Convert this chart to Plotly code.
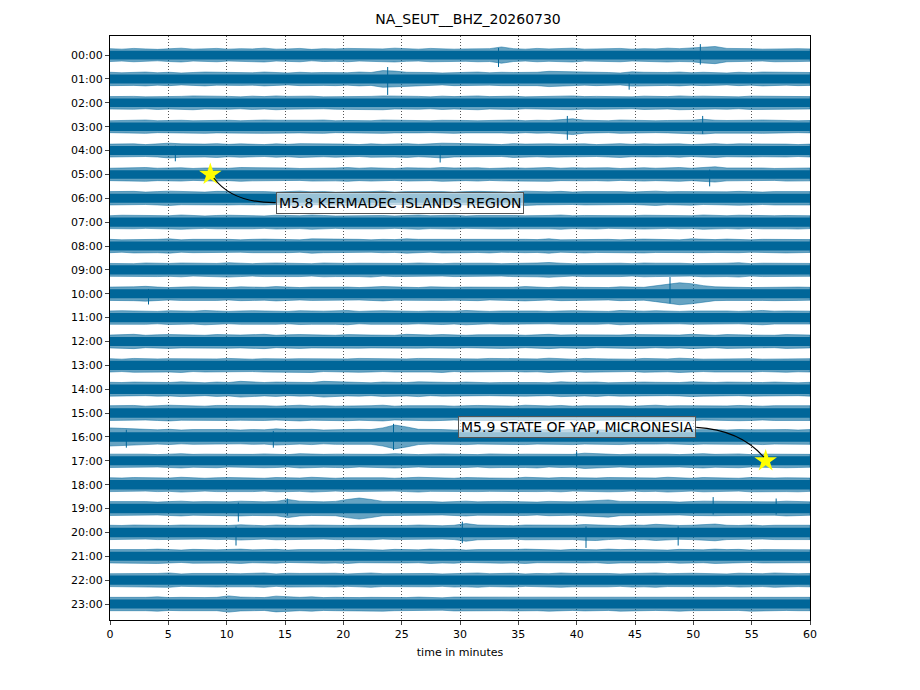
import numpy as np
import plotly.graph_objects as go

title = "NA_SEUT__BHZ_20260730"
hour_labels = ["%02d:00" % h for h in range(24)]
x_ticks = list(range(0, 61, 5))

# trace envelope per hour, one value per minute, in % of the row spacing
env_00 = [27,25,28,26,24,27,29,25,26,28, 25,27,26,29,25,26,28,24,27,26, 28,25,27,26,29,26,25,28,27,25, 26,28,27,34,27,25,28,26,27,29, 25,27,26,28,25,27,26,29,27,28, 33,36,28,26,27,25,28,26,27,26]
env_01 = [28,26,27,29,26,28,25,27,29,26, 28,27,26,29,27,25,28,26,27,28, 26,29,27,35,33,28,26,27,25,28, 27,29,26,28,27,26,28,32,30,27, 26,28,27,25,30,28,26,27,29,26, 28,27,25,28,26,29,27,26,28,27]
env_02 = [26,28,27,25,28,26,27,29,26,28, 27,25,28,26,29,27,26,28,25,27, 28,26,27,29,26,28,27,25,28,26, 27,29,26,27,28,25,27,26,28,29, 26,27,28,26,25,28,27,26,29,27, 28,26,27,25,28,27,26,28,27,26]
env_03 = [25,27,26,28,25,26,27,25,28,26, 27,25,26,28,27,25,26,27,28,25, 26,27,25,28,26,27,26,25,27,28, 26,25,27,26,28,25,27,26,29,33, 27,26,25,28,26,27,25,26,28,27, 31,27,26,25,27,28,26,27,25,26]
env_04 = [27,26,28,25,27,31,28,26,27,29, 26,28,27,25,28,26,29,27,26,28, 27,25,28,26,27,29,26,28,31,27, 26,28,27,25,29,27,26,28,27,26, 28,25,27,29,26,28,27,26,28,25, 27,29,26,28,27,26,28,27,25,27]
env_05 = [26,28,27,29,26,27,28,25,27,28, 26,29,27,26,28,27,25,28,26,27, 29,26,28,27,25,28,27,26,29,27, 26,28,25,27,28,26,27,29,26,28, 27,26,28,25,27,28,26,27,29,26, 28,32,27,26,28,27,25,28,26,27]
env_06 = [28,27,29,26,28,30,27,28,26,29, 28,27,29,28,26,28,30,27,28,26, 29,27,28,30,26,28,27,29,28,26, 28,29,27,28,26,30,28,27,29,26, 28,27,29,28,26,28,30,27,28,29, 26,28,27,29,28,26,28,27,29,28]
env_07 = [27,29,28,26,28,27,30,28,26,28, 29,27,28,26,29,28,27,30,28,26, 28,29,27,28,26,28,30,27,28,29, 26,28,27,29,28,27,26,28,30,27, 28,29,26,28,27,29,28,26,28,27, 30,28,27,29,26,28,27,28,29,27]
env_08 = [28,26,29,27,28,30,26,28,27,29, 28,26,28,29,27,28,26,30,28,27, 29,28,26,28,27,30,28,26,29,27, 28,27,29,26,28,28,27,30,26,28, 29,27,28,26,28,29,27,28,26,30, 28,27,29,28,26,28,27,29,28,27]
env_09 = [27,28,26,29,28,27,29,26,28,27, 30,28,26,28,29,27,28,26,29,28, 27,28,30,26,28,27,29,28,26,28, 27,29,28,26,28,27,29,31,28,26, 28,29,27,28,26,29,28,27,28,26, 29,27,28,30,26,28,27,29,28,27]
env_10 = [28,27,29,31,28,26,28,29,27,28, 26,29,28,27,30,28,26,28,27,29, 28,26,28,30,27,28,26,29,28,27, 28,29,26,28,27,30,28,26,29,28, 27,28,26,29,28,27,33,40,46,42, 34,29,28,27,26,28,29,27,28,27]
env_11 = [28,29,27,28,26,29,28,27,30,28, 26,28,29,27,28,26,29,28,27,28, 30,26,28,29,27,28,26,28,29,27, 30,28,26,28,27,29,28,26,28,29, 27,28,26,30,28,27,29,28,26,28, 27,29,28,26,28,30,27,28,29,27]
env_12 = [27,28,30,26,28,29,27,28,26,29, 28,27,28,30,26,28,29,27,28,26, 29,28,27,28,26,30,28,27,29,28, 26,28,27,29,28,26,28,30,27,28, 29,26,28,27,29,28,26,28,27,30, 28,26,29,28,27,28,26,29,28,27]
env_13 = [28,26,29,28,27,28,30,26,28,27, 29,28,26,28,29,27,28,30,26,28, 27,29,28,26,28,27,29,28,30,26, 28,27,29,28,26,28,27,30,28,26, 29,28,27,28,26,29,28,27,30,28, 26,28,29,27,28,26,28,29,27,28]
env_14 = [29,28,30,27,29,28,31,29,27,30, 28,33,29,28,30,27,29,28,33,30, 28,29,27,30,29,28,31,27,29,28, 30,29,27,28,30,29,28,27,31,29, 28,30,27,29,28,30,29,27,28,31, 29,28,30,27,29,28,30,29,27,29]
env_15 = [31,30,32,29,31,33,30,31,29,32, 31,30,32,31,29,31,33,30,31,29, 32,30,31,33,29,31,30,32,31,29, 31,32,30,31,29,33,31,30,32,29, 31,30,32,31,29,31,33,30,31,32, 29,31,30,32,31,29,31,30,32,31]
env_16 = [38,36,33,31,30,32,29,31,30,32, 31,29,31,30,34,31,30,32,29,31, 30,32,31,38,50,42,32,30,31,29, 32,30,31,29,31,32,30,31,29,32, 30,31,29,32,30,31,30,29,31,32, 30,31,29,31,30,32,30,31,29,31]
env_17 = [28,27,29,28,26,28,30,27,28,29, 26,28,27,29,28,26,30,28,27,28, 29,26,28,27,30,28,26,28,29,27, 28,26,29,28,27,28,30,26,28,27, 32,29,28,26,28,27,29,28,26,28, 30,27,28,29,26,28,27,29,28,27]
env_18 = [29,28,30,27,29,28,31,29,27,29, 30,28,29,27,30,29,28,31,29,27, 29,28,30,29,27,29,31,28,29,27, 30,29,28,29,27,31,29,28,30,27, 29,28,30,29,27,29,28,31,29,27, 30,28,29,27,30,29,28,29,30,28]
env_19 = [29,28,30,29,27,29,31,28,29,30, 28,31,29,28,30,38,31,29,28,30, 38,44,38,30,29,28,30,29,27,29, 31,28,29,30,28,29,27,30,29,28, 31,35,36,30,29,28,30,29,27,29, 31,30,29,28,30,29,28,31,29,28]
env_20 = [30,29,31,28,30,29,31,30,28,30, 29,32,30,28,31,30,29,31,28,30, 29,30,31,28,30,29,31,30,28,30, 37,31,29,30,28,31,30,29,31,30, 33,34,30,28,31,30,34,31,29,30, 31,35,30,29,31,28,30,29,31,30]
env_21 = [28,29,27,28,30,28,26,29,28,27, 28,30,27,28,29,26,28,27,29,28, 30,27,28,26,29,28,27,30,28,29, 26,28,27,29,28,30,27,28,26,29, 28,27,30,28,29,27,28,26,29,28, 27,30,28,29,26,28,27,29,28,27]
env_22 = [27,28,29,27,28,30,26,28,27,29, 28,27,28,30,26,29,28,27,28,29, 26,28,30,27,28,29,27,28,26,29, 28,30,27,28,29,26,28,27,30,28, 29,27,28,26,29,28,30,27,28,29, 27,28,26,29,28,27,30,28,27,28]
env_23 = [28,27,29,28,30,27,28,29,27,28, 34,29,28,27,33,29,28,30,27,28, 29,27,28,30,28,27,29,28,26,29, 28,30,27,28,29,27,28,30,28,27, 29,28,27,30,28,29,27,28,30,28, 27,29,28,27,30,28,29,27,28,28]
envelopes = [env_00, env_01, env_02, env_03, env_04, env_05, env_06, env_07,
             env_08, env_09, env_10, env_11, env_12, env_13, env_14, env_15,
             env_16, env_17, env_18, env_19, env_20, env_21, env_22, env_23]

# dense core of each row, % of row spacing
core = [18, 19, 18, 18, 19, 18, 19, 19, 19, 19, 19, 19,
        19, 19, 20, 20, 20, 19, 20, 20, 20, 19, 19, 19]

# isolated spikes: hour, minute, up and down reach (% of row spacing)
spike_hour = [0, 0, 1, 1, 3, 3, 4, 4, 5, 10, 10, 16, 16, 16, 17, 19, 19, 19, 19, 20, 20, 20, 20]
spike_min = [33.3, 50.6, 23.8, 44.5, 39.2, 50.8, 5.6, 28.3, 51.4, 3.3, 48.0, 24.3, 1.4, 14.0, 40.0,
             11.0, 15.2, 51.7, 57.1, 10.8, 40.8, 48.7, 30.2]
spike_up = [30, 46, 50, 20, 45, 45, 20, 20, 20, 20, 70, 55, 30, 25, 40, 25, 42, 48, 42, 25, 25, 25, 45]
spike_down = [50, 40, 67, 45, 55, 30, 45, 50, 50, 45, 40, 55, 45, 45, 25, 55, 30, 25, 25, 55, 65, 55, 45]

# events
event_text = ["M5.8 KERMADEC ISLANDS REGION", "M5.9 STATE OF YAP, MICRONESIA"]
event_min = [8.6, 56.2]
event_hour = [5.0, 17.0]

color = "#006699"
fig = go.Figure()

for h, env in enumerate(envelopes):
    e = np.array(env) / 100.0
    x = np.linspace(0, 60, len(env))
    fig.add_trace(go.Scatter(
        x=np.concatenate([x, x[::-1]]), y=np.concatenate([h + e, (h - e)[::-1]]),
        fill="toself", fillcolor="rgba(0,102,153,0.6)", mode="lines",
        line=dict(width=0.6, color="rgba(0,102,153,0.8)"), hoverinfo="skip", showlegend=False))
    c = core[h] / 100.0
    fig.add_trace(go.Scatter(
        x=[0, 60, 60, 0, 0], y=[h - c, h - c, h + c, h + c, h - c],
        fill="toself", fillcolor=color, mode="lines",
        line=dict(width=0), hoverinfo="skip", showlegend=False))

sx, sy = [], []
for h, m, u, d in zip(spike_hour, spike_min, spike_up, spike_down):
    sx += [m, m, None]
    sy += [h - u / 100.0, h + d / 100.0, None]
fig.add_trace(go.Scatter(x=sx, y=sy, mode="lines", line=dict(color=color, width=1),
                         hoverinfo="skip", showlegend=False))

fig.add_trace(go.Scatter(x=event_min, y=event_hour, mode="markers",
                         marker=dict(symbol="star", size=17, color="#ffff00", line=dict(width=0)),
                         showlegend=False))

# labels with curved connectors
label_pos = [(24.86, 6.18), (40.03, 15.6)]
curves = ["M 8.9 5.15 Q 10.5 6.2 14.2 6.18", "M 50.25 15.6 Q 54.0 15.7 56.05 16.85"]
for txt, (lx, ly), path in zip(event_text, label_pos, curves):
    fig.add_shape(type="path", path=path, xref="x", yref="y",
                  line=dict(color="black", width=1.2))
    fig.add_annotation(x=lx, y=ly, text=txt, showarrow=False,
                       font=dict(size=14, color="black", family="DejaVu Sans"),
                       bgcolor="rgba(255,255,255,0.6)", bordercolor="#555555",
                       borderwidth=1, borderpad=2)

# the page body adds 8px, so margins are shifted by that
fig.update_layout(
    width=920, height=690,
    margin=dict(l=102, r=118, t=28, b=78),
    plot_bgcolor="white", paper_bgcolor="white",
    font=dict(family="DejaVu Sans", size=11, color="black"),
    title=dict(text=title, x=0.5, xanchor="center", y=1 - 11 / 690, yref="container",
               yanchor="middle", font=dict(size=14, color="black")),
)
fig.update_xaxes(range=[0, 60], tickvals=x_ticks, ticks="outside", ticklen=4,
                 showline=True, linecolor="black", mirror=True, linewidth=1,
                 showgrid=True, gridcolor="#555555", griddash="1px,2px", gridwidth=0.8,
                 zeroline=False, title=dict(text="time in minutes", font=dict(size=11), standoff=8))
fig.update_yaxes(range=[23.67, -0.8], tickvals=list(range(24)), ticktext=hour_labels,
                 ticks="outside", ticklen=4, showline=True, linecolor="black", mirror=True,
                 linewidth=1, showgrid=False, zeroline=False)

fig.write_html("out.html")
